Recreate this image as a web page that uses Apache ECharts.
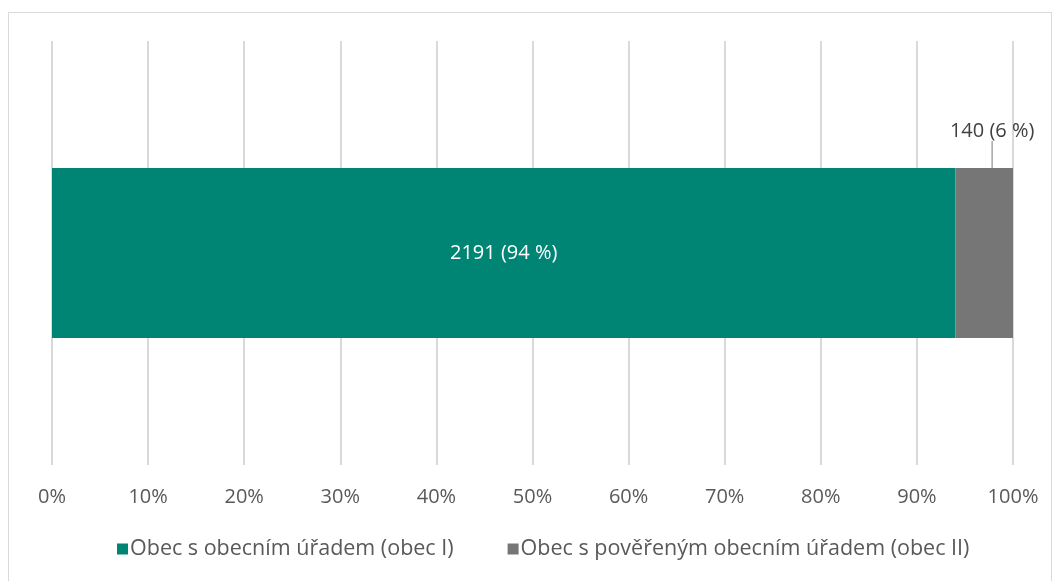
<!DOCTYPE html>
<html>
<head>
<meta charset="utf-8">
<script src="https://cdn.jsdelivr.net/npm/echarts@6/dist/echarts.min.js"></script>
<style>
  html, body { margin: 0; padding: 0; background: #fff; }
  #frame { position: absolute; left: 8px; top: 12px; width: 1044px; height: 600px; border: 1.5px solid #d9d9d9; box-sizing: border-box; }
  #chart { position: absolute; left: 0; top: 0; width: 1054px; height: 581px; }
</style>
</head>
<body>
<div id="frame"></div>
<div id="chart"></div>
<script>
const categories = ['Obce']
const seriesNames = ['Obec s obecním úřadem (obec I)', 'Obec s pověřeným obecním úřadem (obec II)']
const counts = [2191, 140]
const percentLabels = ['94 %', '6 %']
const tickLabels = ['0%', '10%', '20%', '30%', '40%', '50%', '60%', '70%', '80%', '90%', '100%']
const colors = ['#008575', '#767676']

const total = counts.reduce((a, b) => a + b, 0)
const font = 'Open Sans'

const chart = echarts.init(document.getElementById('chart'))
chart.setOption({
  animation: false,
  color: colors,
  textStyle: { fontFamily: font },
  grid: { left: 52, right: 41, top: 41, bottom: 116 },
  legend: {
    bottom: 16,
    left: 112,
    itemWidth: 11,
    itemHeight: 11,
    itemGap: 54,
    icon: 'rect',
    textStyle: { color: '#595959', fontSize: 21.5, fontFamily: font, padding: [0, 0, 0, -3] },
    data: seriesNames
  },
  xAxis: {
    type: 'value',
    min: 0,
    max: 1,
    interval: 0.1,
    axisLine: { show: false },
    axisTick: { show: false },
    splitLine: { lineStyle: { color: '#d9d9d9', width: 2 } },
    axisLabel: {
      color: '#595959',
      fontSize: 20,
      margin: 22,
      formatter: (v) => tickLabels[Math.round(v * 10)]
    }
  },
  yAxis: {
    type: 'category',
    data: categories,
    axisLine: { show: false },
    axisTick: { show: false },
    axisLabel: { show: false }
  },
  series: [
    {
      name: seriesNames[0],
      type: 'bar',
      stack: 'all',
      barWidth: 170,
      data: [counts[0] / total],
      label: {
        show: true,
        position: 'inside',
        color: '#fff',
        fontSize: 20,
        formatter: () => counts[0] + ' (' + percentLabels[0] + ')'
      }
    },
    {
      name: seriesNames[1],
      type: 'bar',
      stack: 'all',
      barWidth: 170,
      data: [counts[1] / total],
      label: {
        show: true,
        position: 'top',
        color: '#404040',
        fontSize: 20,
        formatter: () => counts[1] + ' (' + percentLabels[1] + ')'
      },
      labelLayout: { dx: 8, dy: -22 },
      labelLine: { show: true, lineStyle: { color: '#a6a6a6', width: 1.5 } }
    }
  ]
})
</script>
</body>
</html>
